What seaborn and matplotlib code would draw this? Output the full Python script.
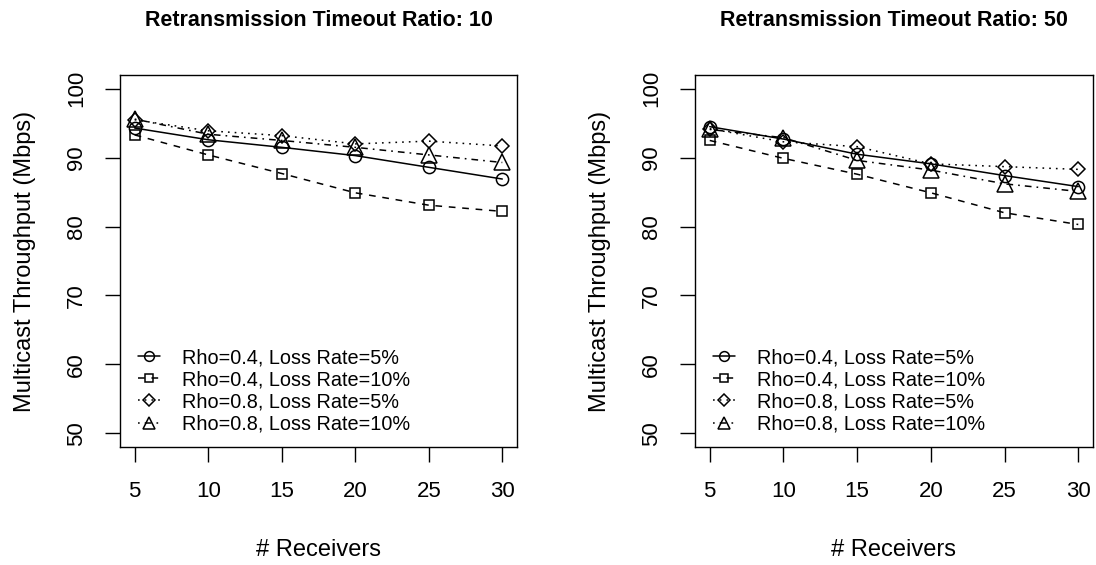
import matplotlib
matplotlib.use("Agg")
import matplotlib.pyplot as plt
import seaborn as sns
import pandas as pd

# Number of receivers on the x axis
receivers = [5, 10, 15, 20, 25, 30]

series_labels = [
    "Rho=0.4, Loss Rate=5%",
    "Rho=0.4, Loss Rate=10%",
    "Rho=0.8, Loss Rate=5%",
    "Rho=0.8, Loss Rate=10%",
]

# Multicast throughput (Mbps), retransmission timeout ratio 10
ratio10_rho04_loss5 = [94.3, 92.6, 91.5, 90.3, 88.6, 86.9]
ratio10_rho04_loss10 = [93.3, 90.4, 87.7, 84.9, 83.1, 82.2]
ratio10_rho08_loss5 = [95.5, 93.9, 93.2, 92.0, 92.4, 91.7]
ratio10_rho08_loss10 = [95.6, 93.4, 92.5, 91.5, 90.4, 89.3]

# Multicast throughput (Mbps), retransmission timeout ratio 50
ratio50_rho04_loss5 = [94.5, 92.7, 90.5, 89.1, 87.4, 85.8]
ratio50_rho04_loss10 = [92.5, 89.9, 87.6, 84.9, 82.0, 80.3]
ratio50_rho08_loss5 = [94.2, 92.3, 91.6, 89.1, 88.7, 88.3]
ratio50_rho08_loss10 = [94.1, 92.9, 89.6, 88.2, 86.2, 85.1]

panels = [
    ("Retransmission Timeout Ratio: 10",
     [ratio10_rho04_loss5, ratio10_rho04_loss10, ratio10_rho08_loss5, ratio10_rho08_loss10]),
    ("Retransmission Timeout Ratio: 50",
     [ratio50_rho04_loss5, ratio50_rho04_loss10, ratio50_rho08_loss5, ratio50_rho08_loss10]),
]

y_ticks = [50, 60, 70, 80, 90, 100]

sns.set_style("ticks")
plt.rcParams["font.family"] = ["Liberation Sans", "DejaVu Sans"]
plt.rcParams.update({
    "text.color": "black",
    "axes.labelcolor": "black",
    "xtick.color": "black",
    "ytick.color": "black",
    "axes.edgecolor": "black",
})

# marker, marker size, dash pattern (None = solid)
styles = [
    ("o", 8.8, None),
    ("s", 7.6, (4.4, 4.4)),
    ("D", 7.6, (1.1, 3.3)),
    ("^", 11.0, (1.1, 3.3, 4.4, 3.3)),
]

fig = plt.figure(figsize=(10.96, 5.65), dpi=100)
axes_rects = [
    [120 / 1096, 1 - 447 / 565, 397 / 1096, 372 / 565],
    [695 / 1096, 1 - 447 / 565, 398 / 1096, 372 / 565],
]

for rect, (title, series) in zip(axes_rects, panels):
    ax = fig.add_axes(rect)
    for label, values, (marker, ms, dash) in zip(series_labels, series, styles):
        df = pd.DataFrame({"receivers": receivers, "throughput": values})
        sns.lineplot(
            data=df, x="receivers", y="throughput", ax=ax,
            color="black", linewidth=1.1, marker=marker, markersize=ms,
            markerfacecolor="none", markeredgecolor="black",
            markeredgewidth=1.1, label=label,
        )
        line = ax.lines[-1]
        if dash is None:
            line.set_linestyle("-")
        else:
            line.set_dashes(dash)

    ax.set_xlim(4, 31)
    ax.set_ylim(48, 102)
    ax.set_xticks(receivers)
    ax.set_yticks(y_ticks)
    ax.tick_params(axis="both", direction="out", length=10.8, width=1.0,
                   color="black", labelcolor="black")
    ax.tick_params(axis="x", labelsize=16, pad=14)
    ax.tick_params(axis="y", labelsize=16, pad=13, labelrotation=90)
    for t in ax.get_yticklabels():
        t.set_va("center")
    for side in ["left", "right", "top", "bottom"]:
        ax.spines[side].set_visible(True)
        ax.spines[side].set_color("black")
        ax.spines[side].set_linewidth(1.0)

    ax.set_xlabel("# Receivers", fontsize=17, color="black")
    ax.set_ylabel("Multicast Throughput (Mbps)", fontsize=17, color="black")
    ax.xaxis.set_label_coords(0.5, (447 - 550) / 372)
    ax.xaxis.label.set_va("center")
    ax.yaxis.set_label_coords((25 - 120) / 397, 0.5)
    ax.yaxis.label.set_va("center")

    ax.text(0.5, (447 - 21) / 372, title, transform=ax.transAxes,
            ha="center", va="center", fontsize=15.5, fontweight="bold",
            color="black")

    leg = ax.legend(
        loc="upper left", bbox_to_anchor=(0.045, 0.266), frameon=False,
        fontsize=14.3, borderpad=0, borderaxespad=0, handlelength=1.1,
        handletextpad=1.1, labelspacing=0.16, markerscale=0.8,
    )
    for txt in leg.get_texts():
        txt.set_color("black")

fig.savefig("out.png", dpi=100)
